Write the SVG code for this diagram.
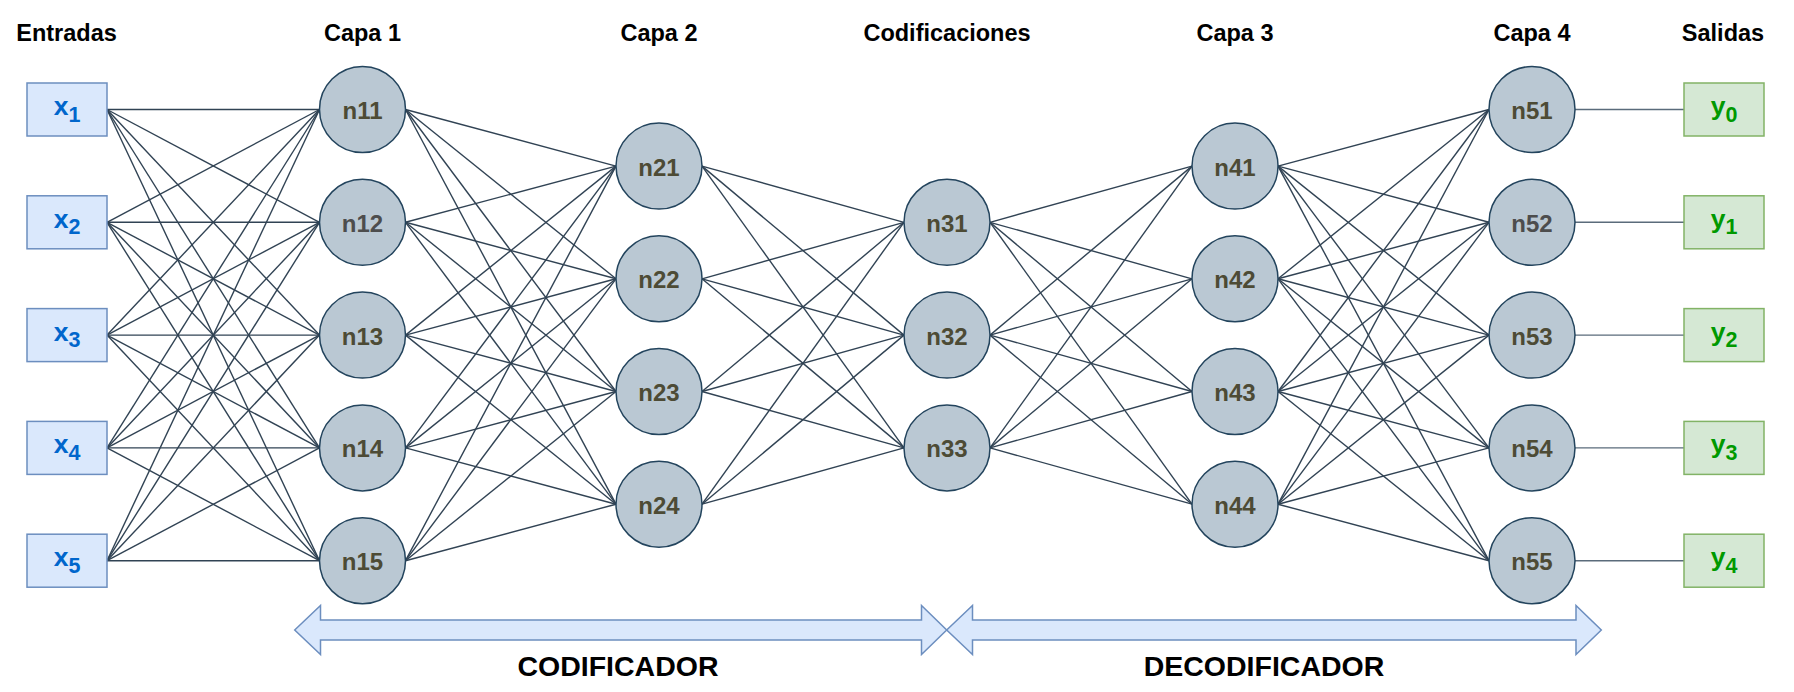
<svg xmlns="http://www.w3.org/2000/svg" width="1794" height="692" viewBox="0 0 1794 692">
<style>
.title{font-family:"Liberation Sans",Arial,sans-serif;font-weight:bold;font-size:23.5px;fill:#000;text-anchor:middle}
.big{font-family:"Liberation Sans",Arial,sans-serif;font-weight:bold;font-size:28.5px;fill:#000;text-anchor:middle}
.neuron circle{fill:#bac8d3;stroke:#23445d;stroke-width:1.5}
.neuron text{font-family:"Liberation Sans",Arial,sans-serif;font-weight:bold;font-size:24px;fill:#4d4b35;text-anchor:middle}
.neuron text.g{fill:#4d4d4d}
.inp rect{fill:#dae8fc;stroke:#6c8ebf;stroke-width:1.5}
.inp text{font-family:"Liberation Sans",Arial,sans-serif;font-weight:bold;font-size:26.5px;fill:#0066cc;text-anchor:middle}
.out rect{fill:#d5e8d4;stroke:#82b366;stroke-width:1.5}
.out text{font-family:"Liberation Sans",Arial,sans-serif;font-weight:bold;font-size:26.5px;fill:#009900;text-anchor:middle}
.sub{font-size:21.5px}
#connectors line{stroke:#314354;stroke-width:1.4}
#connectors .o line{stroke:#5a6b7b}
.arrow{fill:#dae8fc;stroke:#6c8ebf;stroke-width:1.5}
</style>
<rect width="1794" height="692" fill="#fff"/>
<g id="titles">
<text class="title" x="66.5" y="41">Entradas</text>
<text class="title" x="362.5" y="41">Capa 1</text>
<text class="title" x="659" y="41">Capa 2</text>
<text class="title" x="947" y="41">Codificaciones</text>
<text class="title" x="1235" y="41">Capa 3</text>
<text class="title" x="1532" y="41">Capa 4</text>
<text class="title" x="1723" y="41">Salidas</text>
</g>
<g id="connectors">
<g class="l1">
<line x1="107" y1="109.5" x2="319.5" y2="109.5"/><line x1="107" y1="109.5" x2="319.5" y2="222.3"/><line x1="107" y1="109.5" x2="319.5" y2="335.1"/><line x1="107" y1="109.5" x2="319.5" y2="447.9"/><line x1="107" y1="109.5" x2="319.5" y2="560.7"/>
<line x1="107" y1="222.3" x2="319.5" y2="109.5"/><line x1="107" y1="222.3" x2="319.5" y2="222.3"/><line x1="107" y1="222.3" x2="319.5" y2="335.1"/><line x1="107" y1="222.3" x2="319.5" y2="447.9"/><line x1="107" y1="222.3" x2="319.5" y2="560.7"/>
<line x1="107" y1="335.1" x2="319.5" y2="109.5"/><line x1="107" y1="335.1" x2="319.5" y2="222.3"/><line x1="107" y1="335.1" x2="319.5" y2="335.1"/><line x1="107" y1="335.1" x2="319.5" y2="447.9"/><line x1="107" y1="335.1" x2="319.5" y2="560.7"/>
<line x1="107" y1="447.9" x2="319.5" y2="109.5"/><line x1="107" y1="447.9" x2="319.5" y2="222.3"/><line x1="107" y1="447.9" x2="319.5" y2="335.1"/><line x1="107" y1="447.9" x2="319.5" y2="447.9"/><line x1="107" y1="447.9" x2="319.5" y2="560.7"/>
<line x1="107" y1="560.7" x2="319.5" y2="109.5"/><line x1="107" y1="560.7" x2="319.5" y2="222.3"/><line x1="107" y1="560.7" x2="319.5" y2="335.1"/><line x1="107" y1="560.7" x2="319.5" y2="447.9"/><line x1="107" y1="560.7" x2="319.5" y2="560.7"/>
</g>
<g class="l2">
<line x1="405.5" y1="109.5" x2="616" y2="166.1"/><line x1="405.5" y1="109.5" x2="616" y2="278.8"/><line x1="405.5" y1="109.5" x2="616" y2="391.5"/><line x1="405.5" y1="109.5" x2="616" y2="504.2"/>
<line x1="405.5" y1="222.3" x2="616" y2="166.1"/><line x1="405.5" y1="222.3" x2="616" y2="278.8"/><line x1="405.5" y1="222.3" x2="616" y2="391.5"/><line x1="405.5" y1="222.3" x2="616" y2="504.2"/>
<line x1="405.5" y1="335.1" x2="616" y2="166.1"/><line x1="405.5" y1="335.1" x2="616" y2="278.8"/><line x1="405.5" y1="335.1" x2="616" y2="391.5"/><line x1="405.5" y1="335.1" x2="616" y2="504.2"/>
<line x1="405.5" y1="447.9" x2="616" y2="166.1"/><line x1="405.5" y1="447.9" x2="616" y2="278.8"/><line x1="405.5" y1="447.9" x2="616" y2="391.5"/><line x1="405.5" y1="447.9" x2="616" y2="504.2"/>
<line x1="405.5" y1="560.7" x2="616" y2="166.1"/><line x1="405.5" y1="560.7" x2="616" y2="278.8"/><line x1="405.5" y1="560.7" x2="616" y2="391.5"/><line x1="405.5" y1="560.7" x2="616" y2="504.2"/>
</g>
<g class="l3">
<line x1="702" y1="166.1" x2="904" y2="222.3"/><line x1="702" y1="166.1" x2="904" y2="335.1"/><line x1="702" y1="166.1" x2="904" y2="447.9"/>
<line x1="702" y1="278.8" x2="904" y2="222.3"/><line x1="702" y1="278.8" x2="904" y2="335.1"/><line x1="702" y1="278.8" x2="904" y2="447.9"/>
<line x1="702" y1="391.5" x2="904" y2="222.3"/><line x1="702" y1="391.5" x2="904" y2="335.1"/><line x1="702" y1="391.5" x2="904" y2="447.9"/>
<line x1="702" y1="504.2" x2="904" y2="222.3"/><line x1="702" y1="504.2" x2="904" y2="335.1"/><line x1="702" y1="504.2" x2="904" y2="447.9"/>
</g>
<g class="l4">
<line x1="990" y1="222.3" x2="1192" y2="166.1"/><line x1="990" y1="222.3" x2="1192" y2="278.8"/><line x1="990" y1="222.3" x2="1192" y2="391.5"/><line x1="990" y1="222.3" x2="1192" y2="504.2"/>
<line x1="990" y1="335.1" x2="1192" y2="166.1"/><line x1="990" y1="335.1" x2="1192" y2="278.8"/><line x1="990" y1="335.1" x2="1192" y2="391.5"/><line x1="990" y1="335.1" x2="1192" y2="504.2"/>
<line x1="990" y1="447.9" x2="1192" y2="166.1"/><line x1="990" y1="447.9" x2="1192" y2="278.8"/><line x1="990" y1="447.9" x2="1192" y2="391.5"/><line x1="990" y1="447.9" x2="1192" y2="504.2"/>
</g>
<g class="l5">
<line x1="1278" y1="166.1" x2="1489" y2="109.5"/><line x1="1278" y1="166.1" x2="1489" y2="222.3"/><line x1="1278" y1="166.1" x2="1489" y2="335.1"/><line x1="1278" y1="166.1" x2="1489" y2="447.9"/><line x1="1278" y1="166.1" x2="1489" y2="560.7"/>
<line x1="1278" y1="278.8" x2="1489" y2="109.5"/><line x1="1278" y1="278.8" x2="1489" y2="222.3"/><line x1="1278" y1="278.8" x2="1489" y2="335.1"/><line x1="1278" y1="278.8" x2="1489" y2="447.9"/><line x1="1278" y1="278.8" x2="1489" y2="560.7"/>
<line x1="1278" y1="391.5" x2="1489" y2="109.5"/><line x1="1278" y1="391.5" x2="1489" y2="222.3"/><line x1="1278" y1="391.5" x2="1489" y2="335.1"/><line x1="1278" y1="391.5" x2="1489" y2="447.9"/><line x1="1278" y1="391.5" x2="1489" y2="560.7"/>
<line x1="1278" y1="504.2" x2="1489" y2="109.5"/><line x1="1278" y1="504.2" x2="1489" y2="222.3"/><line x1="1278" y1="504.2" x2="1489" y2="335.1"/><line x1="1278" y1="504.2" x2="1489" y2="447.9"/><line x1="1278" y1="504.2" x2="1489" y2="560.7"/>
</g>
<g class="o">
<line x1="1575" y1="109.5" x2="1684" y2="109.5"/><line x1="1575" y1="222.3" x2="1684" y2="222.3"/><line x1="1575" y1="335.1" x2="1684" y2="335.1"/><line x1="1575" y1="447.9" x2="1684" y2="447.9"/><line x1="1575" y1="560.7" x2="1684" y2="560.7"/>
</g>
</g>
<g id="x1" class="inp"><rect x="27" y="83" width="80" height="53"/><text x="67" y="115">x<tspan class="sub" dy="6.5">1</tspan></text></g>
<g id="x2" class="inp"><rect x="27" y="195.8" width="80" height="53"/><text x="67" y="227.8">x<tspan class="sub" dy="6.5">2</tspan></text></g>
<g id="x3" class="inp"><rect x="27" y="308.6" width="80" height="53"/><text x="67" y="340.6">x<tspan class="sub" dy="6.5">3</tspan></text></g>
<g id="x4" class="inp"><rect x="27" y="421.4" width="80" height="53"/><text x="67" y="453.4">x<tspan class="sub" dy="6.5">4</tspan></text></g>
<g id="x5" class="inp"><rect x="27" y="534.2" width="80" height="53"/><text x="67" y="566.2">x<tspan class="sub" dy="6.5">5</tspan></text></g>
<g id="n11" class="neuron"><circle cx="362.5" cy="109.5" r="43"/><text x="362.5" y="119">n11</text></g>
<g id="n12" class="neuron"><circle cx="362.5" cy="222.3" r="43"/><text class="g" x="362.5" y="231.8">n12</text></g>
<g id="n13" class="neuron"><circle cx="362.5" cy="335.1" r="43"/><text x="362.5" y="344.6">n13</text></g>
<g id="n14" class="neuron"><circle cx="362.5" cy="447.9" r="43"/><text x="362.5" y="457.4">n14</text></g>
<g id="n15" class="neuron"><circle cx="362.5" cy="560.7" r="43"/><text x="362.5" y="570.2">n15</text></g>
<g id="n21" class="neuron"><circle cx="659" cy="166.1" r="43"/><text x="659" y="175.6">n21</text></g>
<g id="n22" class="neuron"><circle cx="659" cy="278.8" r="43"/><text x="659" y="288.3">n22</text></g>
<g id="n23" class="neuron"><circle cx="659" cy="391.5" r="43"/><text x="659" y="401">n23</text></g>
<g id="n24" class="neuron"><circle cx="659" cy="504.2" r="43"/><text x="659" y="513.7">n24</text></g>
<g id="n31" class="neuron"><circle cx="947" cy="222.3" r="43"/><text x="947" y="231.8">n31</text></g>
<g id="n32" class="neuron"><circle cx="947" cy="335.1" r="43"/><text x="947" y="344.6">n32</text></g>
<g id="n33" class="neuron"><circle cx="947" cy="447.9" r="43"/><text x="947" y="457.4">n33</text></g>
<g id="n41" class="neuron"><circle cx="1235" cy="166.1" r="43"/><text x="1235" y="175.6">n41</text></g>
<g id="n42" class="neuron"><circle cx="1235" cy="278.8" r="43"/><text x="1235" y="288.3">n42</text></g>
<g id="n43" class="neuron"><circle cx="1235" cy="391.5" r="43"/><text x="1235" y="401">n43</text></g>
<g id="n44" class="neuron"><circle cx="1235" cy="504.2" r="43"/><text x="1235" y="513.7">n44</text></g>
<g id="n51" class="neuron"><circle cx="1532" cy="109.5" r="43"/><text x="1532" y="119">n51</text></g>
<g id="n52" class="neuron"><circle cx="1532" cy="222.3" r="43"/><text class="g" x="1532" y="231.8">n52</text></g>
<g id="n53" class="neuron"><circle cx="1532" cy="335.1" r="43"/><text x="1532" y="344.6">n53</text></g>
<g id="n54" class="neuron"><circle cx="1532" cy="447.9" r="43"/><text x="1532" y="457.4">n54</text></g>
<g id="n55" class="neuron"><circle cx="1532" cy="560.7" r="43"/><text x="1532" y="570.2">n55</text></g>
<g id="y0" class="out"><rect x="1684" y="83" width="80" height="53"/><text x="1724" y="115">y<tspan class="sub" dy="6.5">0</tspan></text></g>
<g id="y1" class="out"><rect x="1684" y="195.8" width="80" height="53"/><text x="1724" y="227.8">y<tspan class="sub" dy="6.5">1</tspan></text></g>
<g id="y2" class="out"><rect x="1684" y="308.6" width="80" height="53"/><text x="1724" y="340.6">y<tspan class="sub" dy="6.5">2</tspan></text></g>
<g id="y3" class="out"><rect x="1684" y="421.4" width="80" height="53"/><text x="1724" y="453.4">y<tspan class="sub" dy="6.5">3</tspan></text></g>
<g id="y4" class="out"><rect x="1684" y="534.2" width="80" height="53"/><text x="1724" y="566.2">y<tspan class="sub" dy="6.5">4</tspan></text></g>
<g id="codificador">
<polygon class="arrow" points="294.7,630 320.5,605.5 320.5,620 921.5,620 921.5,605.5 946.7,630 921.5,654.5 921.5,640 320.5,640 320.5,654.5"/>
<text class="big" x="618" y="676">CODIFICADOR</text>
</g>
<g id="decodificador">
<polygon class="arrow" points="946.7,630 972.5,605.5 972.5,620 1576,620 1576,605.5 1601.3,630 1576,654.5 1576,640 972.5,640 972.5,654.5"/>
<text class="big" x="1264" y="676">DECODIFICADOR</text>
</g>
</svg>
